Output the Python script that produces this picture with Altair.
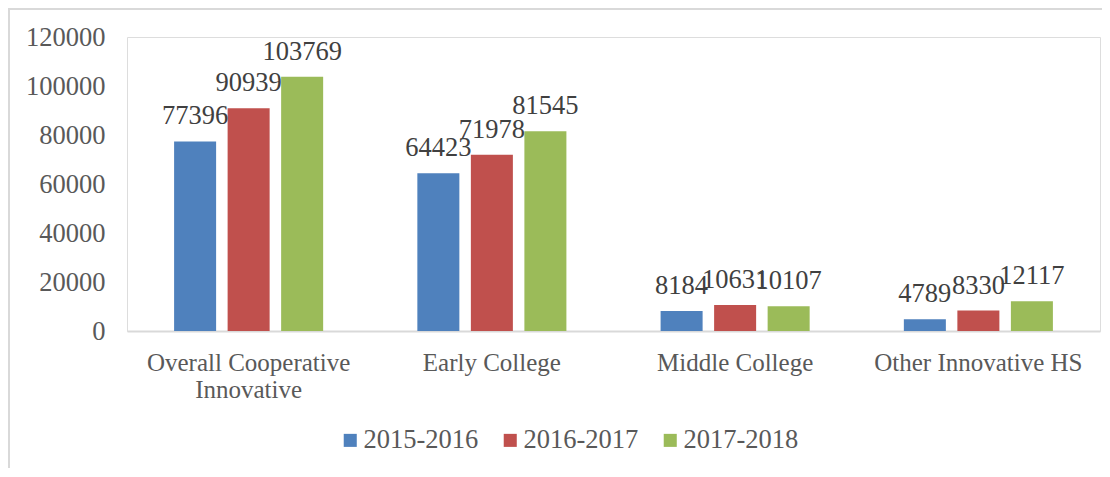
import altair as alt
import pandas as pd

categories = ["Overall Cooperative Innovative", "Early College", "Middle College", "Other Innovative HS"]
years = ["2015-2016", "2016-2017", "2017-2018"]
v_2015 = [77396, 64423, 8184, 4789]
v_2016 = [90939, 71978, 10631, 8330]
v_2017 = [103769, 81545, 10107, 12117]
colors = ["#4F81BD", "#C0504D", "#9BBB59"]
y_ticks = [0, 20000, 40000, 60000, 80000, 100000, 120000]

rows = []
for series, vals in zip(years, [v_2015, v_2016, v_2017]):
    for c, v in zip(categories, vals):
        rows.append({"category": c, "year": series, "value": v})
df = pd.DataFrame(rows)

FONT = "Liberation Serif"
FS = 25
FN = 26.5

x_enc = alt.X("category:N", sort=categories, title=None,
              scale=alt.Scale(paddingInner=0, paddingOuter=0),
              axis=alt.Axis(labelAngle=0, domainColor="#D9D9D9", domainWidth=2, ticks=False,
                            labelFont=FONT, labelFontSize=FS, labelColor="#595959",
                            labelPadding=19, labelLineHeight=27, labelLimit=400,
                            labelExpr="datum.value == 'Overall Cooperative Innovative' ? ['Overall Cooperative', 'Innovative'] : datum.value"))
xoff = alt.XOffset("year:N", sort=years,
                   scale=alt.Scale(paddingInner=0.215, paddingOuter=0.88))
y_enc = alt.Y("value:Q", title=None,
              scale=alt.Scale(domain=[0, 120000], nice=False),
              axis=alt.Axis(values=y_ticks, grid=False, domain=False, ticks=False,
                            labelFont=FONT, labelFontSize=FN, labelColor="#595959",
                            labelPadding=22, format="d"))

base = alt.Chart(df)
bars = base.mark_bar().encode(
    x=x_enc, xOffset=xoff, y=y_enc,
    color=alt.Color("year:N", sort=years, scale=alt.Scale(domain=years, range=colors),
                    legend=alt.Legend(title=None, orient="none", direction="horizontal",
                                      legendX=210, legendY=390, symbolType="square",
                                      symbolSize=170, symbolStrokeWidth=0, labelFont=FONT,
                                      labelFontSize=FN, labelColor="#595959", labelOffset=0,
                                      columnPadding=18, padding=0)),
)
labels = base.mark_text(baseline="alphabetic", dy=-17, font=FONT, fontSize=FN, color="#404040").encode(
    x=x_enc, xOffset=xoff, y=y_enc, text=alt.Text("value:Q", format="d"),
)
frame = pd.DataFrame({"a": [0]})
border_top = alt.Chart(frame).mark_rule(color="#D9D9D9", strokeWidth=2).encode(
    x=alt.value(-119), x2=alt.value(983), y=alt.value(-28))
border_left = alt.Chart(frame).mark_rule(color="#D9D9D9", strokeWidth=2).encode(
    x=alt.value(-118), y=alt.value(-28), y2=alt.value(440))

chart = alt.layer(border_top, border_left, bars, labels).properties(
    width=973, height=294,
    autosize=alt.AutoSizeParams(type="none"),
    padding={"left": 119, "top": 29, "right": 2, "bottom": 137},
).configure_view(stroke="transparent", strokeWidth=0).configure(background="white")

chart.save("out.html", embed_options={"renderer": "svg", "actions": False})
